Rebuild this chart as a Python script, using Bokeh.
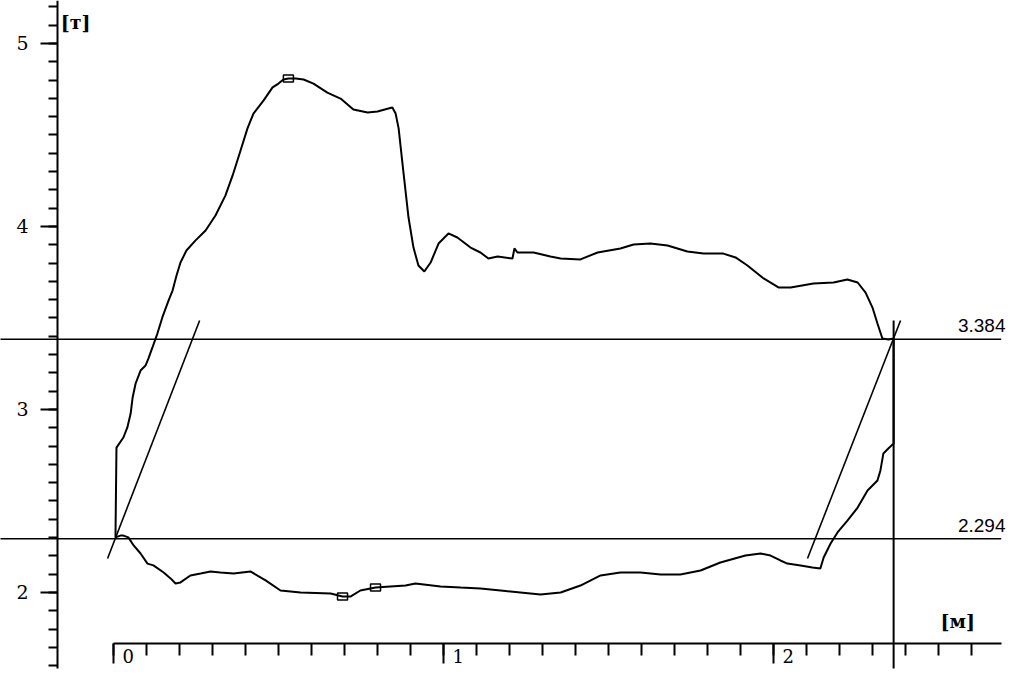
from bokeh.plotting import figure
from bokeh.models import Range1d, LinearAxis, FixedTicker, CustomJSTickFormatter
from bokeh.core.properties import value
from bokeh.embed import file_html
from bokeh.resources import INLINE

# ---- data: polished rod stroke [м] vs load [т] (closed card loop) ----
stroke_m = [0.006, 0.009, 0.030, 0.042, 0.052, 0.058, 0.067, 0.082, 0.097, 0.106,
            0.118, 0.133, 0.148, 0.167, 0.179, 0.191, 0.203, 0.221, 0.248, 0.279,
            0.309, 0.339, 0.361, 0.385, 0.406, 0.424, 0.455, 0.482, 0.500, 0.515,
            0.530, 0.552, 0.576, 0.606, 0.648, 0.688, 0.727, 0.770, 0.800, 0.833,
            0.845, 0.855, 0.864, 0.879, 0.894, 0.909, 0.924, 0.942, 0.961, 0.985,
            1.015, 1.042, 1.082, 1.112, 1.136, 1.164, 1.209, 1.215, 1.224, 1.273,
            1.324, 1.355, 1.415, 1.467, 1.536, 1.576, 1.627, 1.679, 1.739, 1.788,
            1.848, 1.885, 1.921, 1.970, 2.015, 2.052, 2.121, 2.182, 2.224, 2.255,
            2.279, 2.300, 2.315, 2.330, 2.348, 2.364,
            2.364, 2.348, 2.333, 2.324, 2.315, 2.285, 2.255, 2.224, 2.194, 2.173,
            2.152, 2.142,
            2.118, 2.082, 2.042, 2.021, 1.991, 1.961, 1.915, 1.839, 1.779, 1.718,
            1.658, 1.597, 1.536, 1.476, 1.415, 1.355, 1.294, 1.233, 1.173, 1.112,
            1.052, 0.991, 0.915, 0.885, 0.839, 0.794, 0.748, 0.718, 0.694, 0.658,
            0.567, 0.506, 0.461, 0.415, 0.364, 0.324, 0.294, 0.264, 0.233, 0.203,
            0.188, 0.173, 0.152, 0.121, 0.103, 0.082, 0.061, 0.045, 0.030, 0.021,
            0.006]
load_t = [2.301, 2.792, 2.847, 2.902, 2.978, 3.066, 3.142, 3.213, 3.240, 3.279,
          3.339, 3.415, 3.503, 3.596, 3.650, 3.732, 3.803, 3.869, 3.923, 3.978,
          4.060, 4.169, 4.279, 4.415, 4.536, 4.617, 4.689, 4.760, 4.781, 4.803,
          4.809, 4.809, 4.803, 4.781, 4.732, 4.699, 4.639, 4.623, 4.628, 4.645,
          4.650, 4.617, 4.536, 4.290, 4.049, 3.885, 3.787, 3.754, 3.803, 3.907,
          3.962, 3.940, 3.885, 3.858, 3.825, 3.836, 3.825, 3.880, 3.858, 3.858,
          3.836, 3.825, 3.820, 3.858, 3.880, 3.902, 3.907, 3.896, 3.863, 3.852,
          3.852, 3.831, 3.787, 3.716, 3.667, 3.667, 3.689, 3.694, 3.710, 3.694,
          3.639, 3.557, 3.470, 3.388, 3.383, 3.388,
          2.814, 2.787, 2.760, 2.667, 2.612, 2.557, 2.464, 2.393, 2.328, 2.268,
          2.191, 2.131,
          2.137, 2.148, 2.158, 2.175, 2.202, 2.213, 2.202, 2.164, 2.120, 2.098,
          2.098, 2.109, 2.109, 2.093, 2.038, 2.000, 1.989, 2.000, 2.011, 2.022,
          2.027, 2.033, 2.049, 2.038, 2.033, 2.027, 2.011, 1.978, 1.978, 1.995,
          2.000, 2.011, 2.066, 2.115, 2.104, 2.109, 2.115, 2.104, 2.093, 2.055,
          2.049, 2.077, 2.109, 2.148, 2.158, 2.213, 2.257, 2.301, 2.311, 2.311,
          2.301]

marker_m = [0.530, 0.694, 0.794]
marker_t = [4.809, 1.978, 2.027]

levels_t = [3.384, 2.294]
level_span_m = [-0.36, 2.69]

tangent_left_m = [-0.018, 0.261]
tangent_left_t = [2.186, 3.486]
tangent_right_m = [2.103, 2.385]
tangent_right_t = [2.186, 3.486]

stroke_end_m = [2.364, 2.364]
stroke_end_t = [3.486, 1.585]

x_major = [0, 1, 2]
x_minor = [0.0, 0.1, 0.2, 0.3, 0.4, 0.5, 0.6, 0.7, 0.8, 0.9, 1.0, 1.1, 1.2, 1.3,
           1.4, 1.5, 1.6, 1.7, 1.8, 1.9, 2.0, 2.1, 2.2, 2.3, 2.4, 2.5, 2.6]
y_major = [2, 3, 4, 5]
y_minor = [1.6, 1.7, 1.8, 1.9, 2.0, 2.1, 2.2, 2.3, 2.4, 2.5, 2.6, 2.7, 2.8, 2.9,
           3.0, 3.1, 3.2, 3.3, 3.4, 3.5, 3.6, 3.7, 3.8, 3.9, 4.0, 4.1, 4.2, 4.3,
           4.4, 4.5, 4.6, 4.7, 4.8, 4.9, 5.0, 5.1, 5.2]

x_unit = "[м]"
y_unit = "[т]"

# ---- figure ----
p = figure(width=1008, height=669,
           x_range=Range1d(-0.34242, 2.71212), y_range=Range1d(1.57923, 5.23497),
           output_backend="svg", toolbar_location=None,
           x_axis_type=None, y_axis_type=None,
           min_border=0, min_border_left=0, min_border_right=0,
           min_border_top=0, min_border_bottom=0,
           outline_line_color=None, background_fill_color="white",
           border_fill_color="white")

TICK_FONT = "DejaVu Serif"
X_AXIS_AT = 1.7213
Y_AXIS_AT = -0.1697

# x axis: line + ticks
xaxis = LinearAxis(ticker=FixedTicker(ticks=x_major, minor_ticks=x_minor),
                   fixed_location=X_AXIS_AT, bounds=(0, 2.69),
                   formatter=CustomJSTickFormatter(code="return ''"))
xaxis.axis_line_width = 2
xaxis.major_tick_line_width = 2
xaxis.minor_tick_line_width = 2
xaxis.major_tick_in = 0
xaxis.major_tick_out = 20
xaxis.minor_tick_in = 0
xaxis.minor_tick_out = 12
p.add_layout(xaxis, "below")

# x axis labels (set slightly right of their ticks, as in the original)
xlab = LinearAxis(ticker=FixedTicker(ticks=[t + 0.045 for t in x_major], minor_ticks=[]),
                  fixed_location=X_AXIS_AT,
                  formatter=CustomJSTickFormatter(code="return Math.round(tick).toString()"))
xlab.axis_line_color = None
xlab.major_tick_line_color = None
xlab.minor_tick_line_color = None
xlab.major_tick_in = 0
xlab.major_tick_out = 0
xlab.major_label_standoff = 5
xlab.major_label_text_font = TICK_FONT
xlab.major_label_text_font_size = "18px"
xlab.major_label_text_color = "black"
p.add_layout(xlab, "below")

# y axis
yaxis = LinearAxis(ticker=FixedTicker(ticks=y_major, minor_ticks=y_minor),
                   fixed_location=Y_AXIS_AT, bounds=(1.585, 5.25))
yaxis.axis_line_width = 2
yaxis.major_tick_line_width = 2
yaxis.minor_tick_line_width = 2
yaxis.major_tick_in = 0
yaxis.major_tick_out = 17
yaxis.minor_tick_in = 0
yaxis.minor_tick_out = 9
yaxis.major_label_standoff = 12
yaxis.major_label_text_font = TICK_FONT
yaxis.major_label_text_font_size = "19px"
yaxis.major_label_text_color = "black"
p.add_layout(yaxis, "left")

# level lines
p.segment(x0=[level_span_m[0]] * len(levels_t), x1=[level_span_m[1]] * len(levels_t),
          y0=levels_t, y1=levels_t, line_color="black", line_width=1.6)
p.text(x=[2.703] * len(levels_t), y=levels_t, text=[f"{v:.3f}" for v in levels_t],
       text_align="right", text_baseline="bottom", y_offset=-7,
       text_font=value("Liberation Sans"), text_font_size="19px", text_color="black")

# tangents and stroke end
p.line(tangent_left_m, tangent_left_t, line_color="black", line_width=1.6)
p.line(tangent_right_m, tangent_right_t, line_color="black", line_width=1.6)
p.line(stroke_end_m, stroke_end_t, line_color="black", line_width=2)

# card
p.line(stroke_m, load_t, line_color="black", line_width=2)
p.rect(marker_m, marker_t, width=10, height=7, width_units="screen", height_units="screen",
       fill_color=None, line_color="black", line_width=1.5)

# units
p.text(x=[-0.16], y=[5.18], text=[y_unit], text_align="left", text_baseline="top",
       text_font=value("DejaVu Serif"), text_font_style="bold", text_font_size="19px",
       text_color="black")
p.text(x=[2.506], y=[1.902], text=[x_unit], text_align="left", text_baseline="top",
       text_font=value("DejaVu Serif"), text_font_style="bold", text_font_size="19px",
       text_color="black")

open("out.html", "w").write(file_html(p, INLINE))
